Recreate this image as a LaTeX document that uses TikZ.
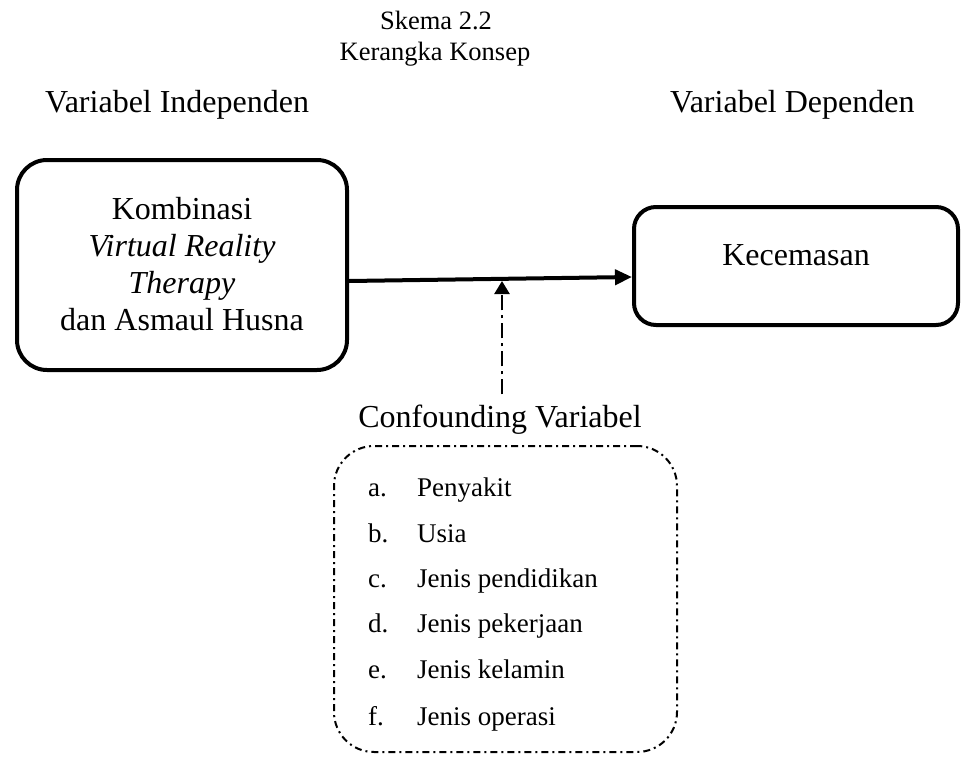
\documentclass[tikz,border=0pt]{standalone}
\usepackage{fontspec}
\setmainfont{Liberation Serif}
\usetikzlibrary{arrows.meta}
\begin{document}
\begin{tikzpicture}[x=1pt,y=-1pt,
  bigtxt/.style={font=\fontsize{32}{37}\selectfont, inner sep=0pt},
  titletxt/.style={font=\fontsize{26.5}{31}\selectfont, inner sep=0pt, anchor=base},
  listtxt/.style={font=\fontsize{27}{32}\selectfont, inner sep=0pt, anchor=base west},
  solidbox/.style={draw=black, line width=4pt, rounded corners=30pt, inner sep=0pt, align=center},
  dashdotbox/.style={draw=black, line width=2pt, rounded corners=40pt, dash pattern=on 7pt off 4pt on 2pt off 4pt},
  mainarrow/.style={draw=black, line width=4pt, -{Triangle[length=17pt,width=15pt]}},
  confarrow/.style={draw=black, line width=2.5pt, dash pattern=on 15pt off 5pt on 3pt off 5pt, -{Triangle[length=13pt,width=15pt]}}
]
\useasboundingbox (0,0) rectangle (962,758);

% titles
\node[titletxt] (t1) at (436,29) {Skema 2.2};
\node[titletxt] (t2) at (435,60) {Kerangka Konsep};

% headers
\node[bigtxt, anchor=base west] (hi) at (45,112) {Variabel Independen};
\node[bigtxt, anchor=base west] (hd) at (670,112) {Variabel Dependen};

% left box
\node[solidbox, bigtxt, minimum width=330pt, minimum height=210pt, text depth=3pt] (L) at (182,265)
  {Kombinasi\\ \textit{Virtual Reality}\\ \textit{Therapy}\\ dan Asmaul Husna};

% right box
\node[solidbox, bigtxt, rounded corners=22pt, minimum width=324pt, minimum height=118pt, text height=10pt, text depth=12pt] (R) at (796,266) {Kecemasan};

% main arrow
\draw[mainarrow] ([yshift=-16pt]L.east) -- ([yshift=-11pt]R.west);

% confounding label
\node[bigtxt, anchor=base] (C) at (500,427) {Confounding Variabel};
\coordinate (m) at (502,281);
\draw[confarrow] ([yshift=10pt]C.north -| m) -- (m);

% dash-dot box
\node[dashdotbox, minimum width=343pt, minimum height=306pt] (B) at (505.5,599) {};

% list
\node[listtxt] (la) at (368,496) {a.};
\node[listtxt] (ta) at (417,496) {Penyakit};
\node[listtxt] (lb) at (368,542) {b.};
\node[listtxt] (tb) at (417,542) {Usia};
\node[listtxt] (lc) at (368,587) {c.};
\node[listtxt] (tc) at (417,587) {Jenis pendidikan};
\node[listtxt] (ld) at (368,632) {d.};
\node[listtxt] (td) at (417,632) {Jenis pekerjaan};
\node[listtxt] (le) at (368,678) {e.};
\node[listtxt] (te) at (417,678) {Jenis kelamin};
\node[listtxt] (lf) at (368,725) {f.};
\node[listtxt] (tf) at (417,725) {Jenis operasi};
\end{tikzpicture}
\end{document}
